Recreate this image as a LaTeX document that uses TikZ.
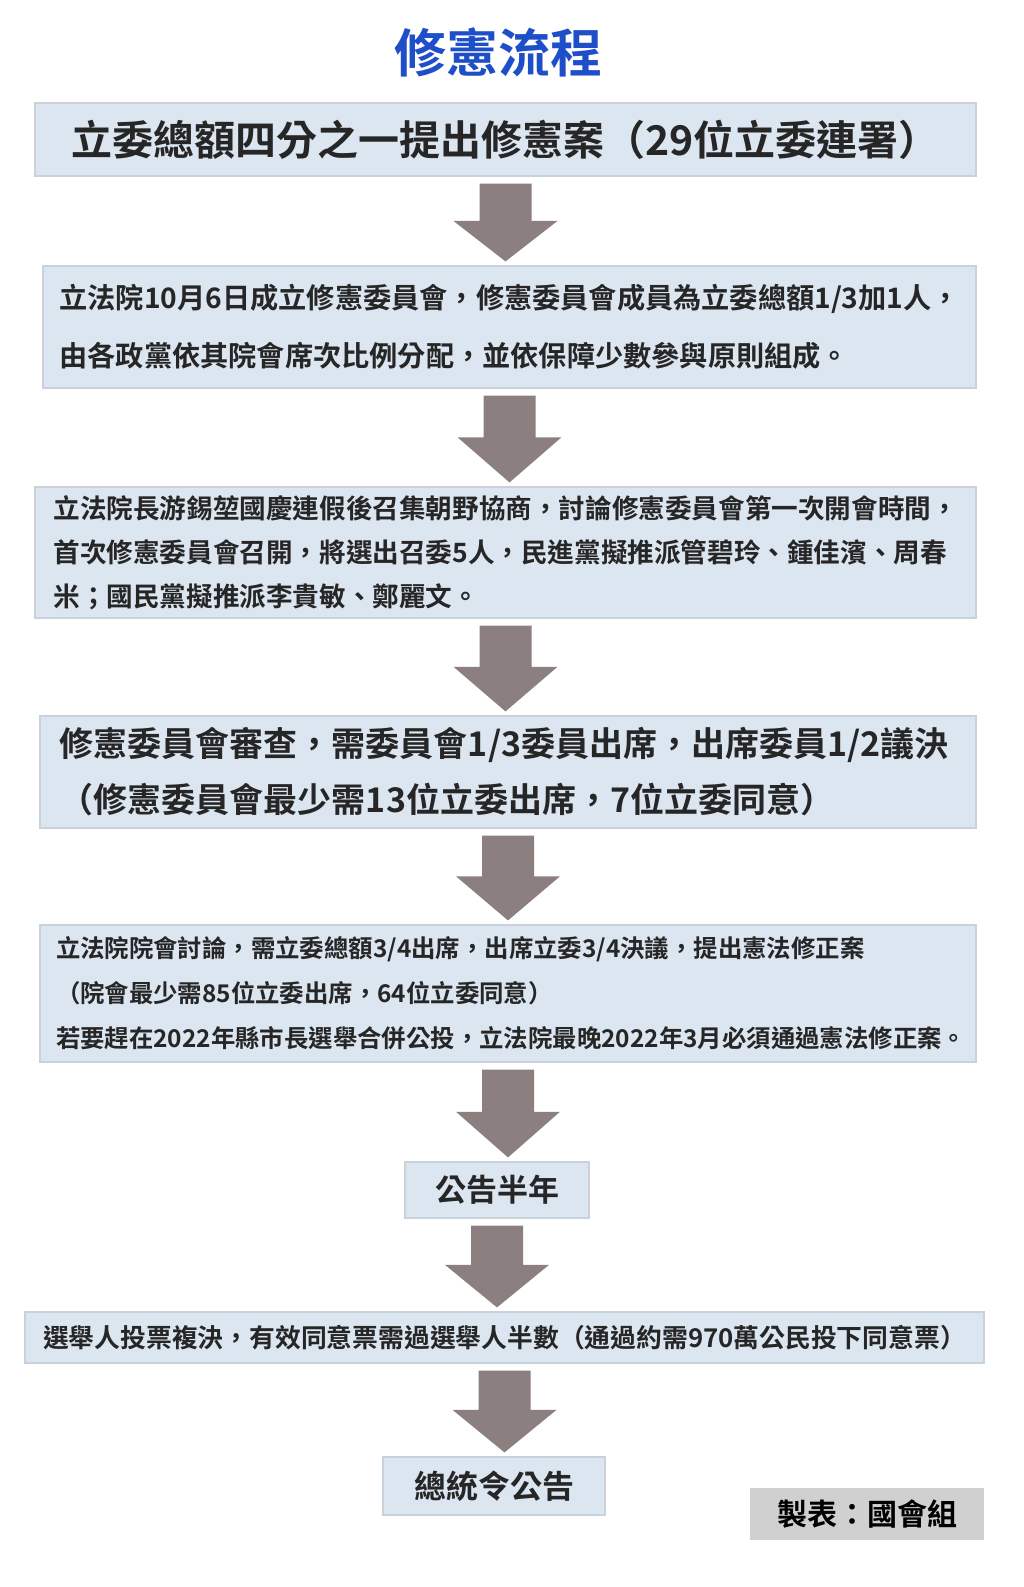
\documentclass[tikz,border=0pt]{standalone}
\usepackage{fontspec}
\setmainfont{Noto Sans CJK TC}[BoldFont={Noto Sans CJK TC Bold}]
\usetikzlibrary{calc}
\definecolor{boxfill}{HTML}{DCE6F1}
\definecolor{arrowc}{HTML}{8B7F80}
\definecolor{titleblue}{HTML}{1F4FC8}
\definecolor{credit}{HTML}{D0D0D0}
\tikzset{
  box/.style={fill=boxfill, draw=boxfill!80!gray, line width=0.6pt, inner sep=0pt, font=\bfseries, text=black!85},
  arrowfill/.style={fill=arrowc, draw=none}
}
\newcommand{\flowarrow}[2]{%
  \path let \p1=($(#1.south)+(0,7)$), \p2=($(#2.north)+(0,-4)$) in
   coordinate (s) at (\x1,\y1) coordinate (e) at (\x1,\y2);
  \fill[arrowfill] ($(s)+(-26,0)$) -- ($(s)+(26,0)$) -- ($(e)!0.52!(s)+(26,0)$) -- ($(e)!0.52!(s)+(52,0)$) -- (e) -- ($(e)!0.52!(s)+(-52,0)$) -- ($(e)!0.52!(s)+(-26,0)$) -- cycle;}
\begin{document}
\begin{tikzpicture}[x=0.5pt,y=-0.5pt]
\useasboundingbox (0,0) rectangle (1024,1587);
\fill[white] (0,0) rectangle (1024,1587);
\node[font=\bfseries\fontsize{26}{30}\selectfont, text=titleblue] (t) at (498,52) {修憲流程};
\node[box, minimum width=470.5pt, minimum height=36.5pt, font=\bfseries\fontsize{20.5}{24}\selectfont] (b1) at (505.5,139.5) {立委總額四分之一提出修憲案（29位立委連署）};
\node[box, minimum width=466.5pt, minimum height=61pt, align=left, text width=450pt, font=\bfseries\fontsize{14.1}{29}\selectfont] (b2) at (509.5,327) {立法院10月6日成立修憲委員會，修憲委員會成員為立委總額1/3加1人，\\由各政黨依其院會席次比例分配，並依保障少數參與原則組成。};
\node[box, minimum width=470.5pt, minimum height=65.5pt, align=left, text width=452pt, font=\bfseries\fontsize{13.3}{22}\selectfont] (b3) at (505.5,552.5) {立法院長游錫堃國慶連假後召集朝野協商，討論修憲委員會第一次開會時間，\\首次修憲委員會召開，將選出召委5人，民進黨擬推派管碧玲、鍾佳濱、周春\\米；國民黨擬推派李貴敏、鄭麗文。};
\node[box, minimum width=468pt, minimum height=56pt, align=left, text width=448pt, font=\bfseries\fontsize{17}{28}\selectfont] (b4) at (508,772) {修憲委員會審查，需委員會1/3委員出席，出席委員1/2議決\\（修憲委員會最少需13位立委出席，7位立委同意）};
\node[box, minimum width=468pt, minimum height=68.5pt, align=left, text width=452pt, font=\bfseries\fontsize{12.2}{22.5}\selectfont] (b5) at (508,993.5) {立法院院會討論，需立委總額3/4出席，出席立委3/4決議，提出憲法修正案\\（院會最少需85位立委出席，64位立委同意）\\若要趕在2022年縣市長選舉合併公投，立法院最晚2022年3月必須通過憲法修正案。};
\node[box, minimum width=92pt, minimum height=28pt, font=\bfseries\fontsize{15.5}{18}\selectfont] (b6) at (497,1190) {公告半年};
\node[box, minimum width=479.5pt, minimum height=25.5pt, font=\bfseries\fontsize{12.9}{16}\selectfont] (b7) at (504.5,1337.5) {選舉人投票複決，有效同意票需過選舉人半數（通過約需970萬公民投下同意票）};
\node[box, minimum width=111pt, minimum height=29pt, font=\bfseries\fontsize{16}{18}\selectfont] (b8) at (494,1486) {總統令公告};
\node[fill=credit, minimum width=117pt, minimum height=26pt, inner sep=0pt, font=\bfseries\fontsize{15}{18}\selectfont] (cr) at (867,1514) {製表：國會組};
\flowarrow{b1}{b2}
\flowarrow{b2}{b3}
\flowarrow{b3}{b4}
\flowarrow{b4}{b5}
\flowarrow{b5}{b6}
\flowarrow{b6}{b7}
\flowarrow{b7}{b8}
\end{tikzpicture}
\end{document}
